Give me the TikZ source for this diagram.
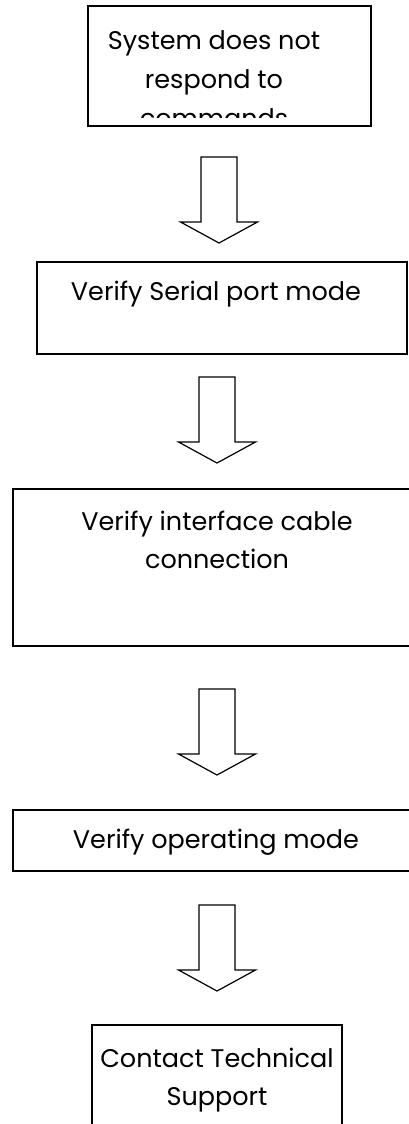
\documentclass[tikz,border=0pt]{standalone}
\usepackage{fontspec}
\setmainfont{Poppins}
\begin{document}
\begin{tikzpicture}[x=1pt,y=-1pt,
  box/.style={draw,line width=1.8pt},
  lbl/.style={align=center,inner sep=0pt,anchor=base,font=\fontsize{25.5}{38}\selectfont},
  blk/.style={draw,line width=1.2pt,fill=white}]
  \useasboundingbox (0,0) rectangle (409,1124);
  \clip (0,0) rectangle (409,1124);
  % boxes
  \draw[box] (88,6) rectangle (371,126);
  \draw[box] (37,262) rectangle (407,354);
  \draw[box] (13,489) rectangle (420,646);
  \draw[box] (13,810) rectangle (420,871);
  \draw[box] (92,1025) rectangle (342,1140);
  % labels (base = last line; first one is cut off by its box)
  \begin{scope}
    \clip (88,6) rectangle (371,117);
    \node[lbl,font=\fontsize{25.5}{39}\selectfont] (fault) at (214,127)
      {System does not\\respond to\\commands};
  \end{scope}
  \node[lbl] (port) at (216,300) {Verify Serial port mode};
  \node[lbl] (cable) at (217,568) {Verify interface cable\\connection};
  \node[lbl] (opmode) at (216,848) {Verify operating mode};
  \node[lbl] (support) at (217,1105) {Contact Technical\\Support};
  % block arrows between the steps
  \foreach \ax/\ay in {219/157,217/377,217/689,217/905}
    \draw[blk] (\ax,\ay) ++(-18,0) -- ++(0,65) -- ++(-20.5,0) -- ++(38.5,21)
      -- ++(38.5,-21) -- ++(-20.5,0) -- ++(0,-65) -- cycle;
\end{tikzpicture}
\end{document}
